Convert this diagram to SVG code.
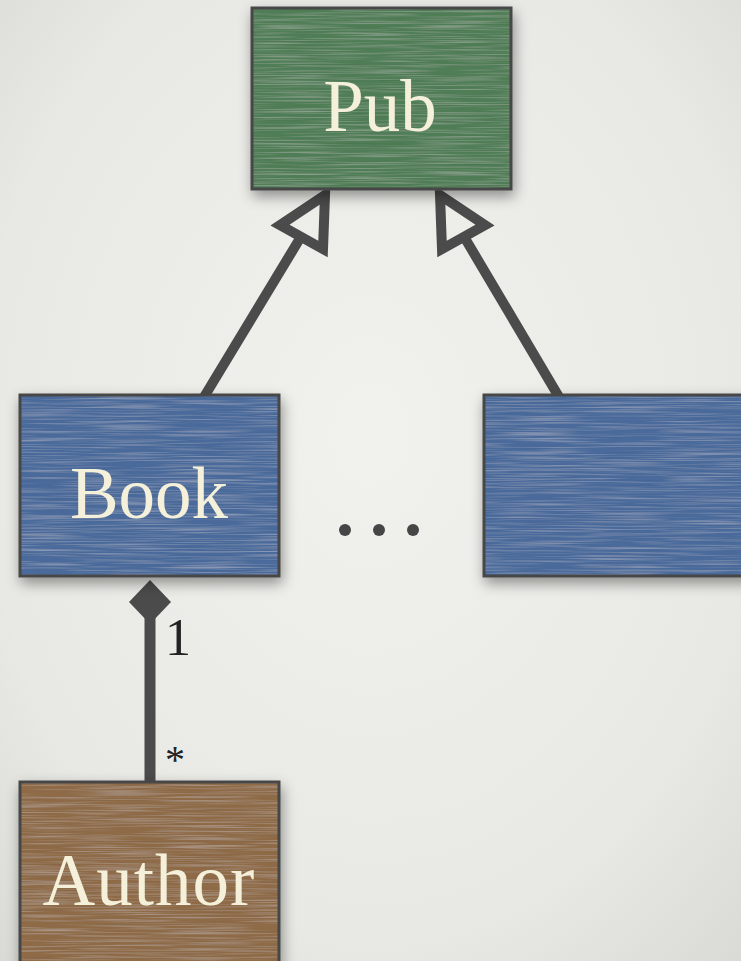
<svg xmlns="http://www.w3.org/2000/svg" width="741" height="961" viewBox="0 0 741 961">
<defs>
<radialGradient id="bg" cx="50%" cy="45%" r="75%">
<stop offset="0" stop-color="#f1f1ee"/>
<stop offset="0.7" stop-color="#e8e8e4"/>
<stop offset="1" stop-color="#d9d9d5"/>
</radialGradient>
<filter id="shadow" x="-20%" y="-20%" width="140%" height="150%">
<feDropShadow dx="2" dy="6" stdDeviation="7" flood-color="#000" flood-opacity="0.4"/>
</filter>
<filter id="tex" x="0" y="0" width="100%" height="100%">
<feTurbulence type="fractalNoise" baseFrequency="0.012 0.7" numOctaves="2" seed="4" result="n"/>
<feColorMatrix in="n" type="matrix" values="0 0 0 0 1  0 0 0 0 1  0 0 0 0 1  0.45 0 0 0 -0.2" result="w"/>
<feColorMatrix in="n" type="matrix" values="0 0 0 0 0  0 0 0 0 0  0 0 0 0 0  0 -0.4 0 0 0.16" result="d"/>
<feComposite in="w" in2="SourceGraphic" operator="atop" result="a"/>
<feComposite in="d" in2="a" operator="atop"/>
</filter>
<style>
.box{stroke:#464646;stroke-width:3}
.lbl{font-family:"Liberation Serif","DejaVu Serif",serif;font-size:73px;fill:#f4f0da;text-anchor:middle}
.line{stroke:#4b4b4b;stroke-width:10;stroke-linecap:round;fill:none}
.head{fill:none;stroke:#4b4b4b;stroke-width:10;stroke-linejoin:miter}
.mult{font-family:"Liberation Serif","DejaVu Serif",serif;fill:#222}
</style>
</defs>
<rect width="741" height="961" fill="url(#bg)"/>

<g id="connectors">
<line class="line" x1="204" y1="397" x2="299" y2="240"/>
<polygon class="head" points="325,195 323,249 280,225"/>
<line class="line" x1="559" y1="397" x2="466" y2="240"/>
<polygon class="head" points="440,195 442,249 485,225"/>
<line class="line" x1="150" y1="615" x2="150" y2="783" style="stroke-width:11"/>
<polygon points="150,580 171,602 150,624 129,602" fill="#4b4b4b"/>
<text class="mult" x="165" y="655" font-size="52">1</text>
<text class="mult" x="165" y="773" font-size="40" fill="#555">*</text>
</g>

<g id="pub" filter="url(#shadow)">
<rect x="252" y="8" width="259" height="181" fill="#4f7d55" filter="url(#tex)"/>
<rect class="box" x="252" y="8" width="259" height="181" fill="none"/>
<text class="lbl" x="380" y="131">Pub</text>
</g>

<g id="book" filter="url(#shadow)">
<rect x="20" y="395" width="259" height="181" fill="#4a6b9b" filter="url(#tex)"/>
<rect class="box" x="20" y="395" width="259" height="181" fill="none"/>
<text class="lbl" x="149" y="518">Book</text>
</g>

<g id="other" filter="url(#shadow)">
<rect x="484" y="395" width="270" height="181" fill="#4a6b9b" filter="url(#tex)"/>
<rect class="box" x="484" y="395" width="270" height="181" fill="none"/>
</g>

<g id="ellipsis" fill="#464646">
<circle cx="345" cy="530" r="6"/>
<circle cx="379" cy="530" r="6"/>
<circle cx="413" cy="530" r="6"/>
</g>

<g id="author" filter="url(#shadow)">
<rect x="20" y="782" width="259" height="190" fill="#8e6b47" filter="url(#tex)"/>
<rect class="box" x="20" y="782" width="259" height="190" fill="none"/>
<text class="lbl" x="149" y="905" style="letter-spacing:1px">Author</text>
</g>
</svg>
